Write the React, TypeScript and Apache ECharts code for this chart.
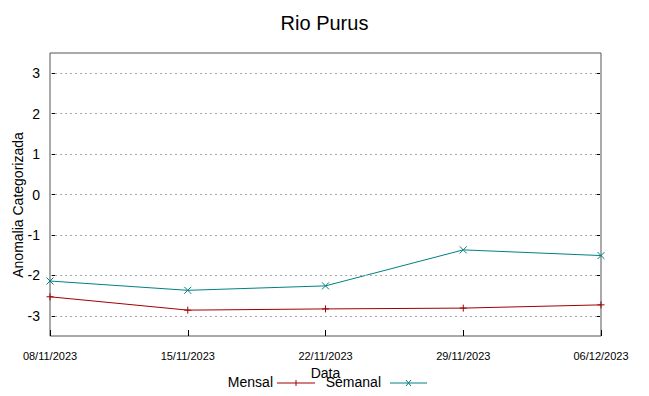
import React, { useEffect, useRef } from "react";
import * as echarts from "echarts";

const dates = ["08/11/2023", "15/11/2023", "22/11/2023", "29/11/2023", "06/12/2023"];
const mensal = [-2.53, -2.86, -2.83, -2.81, -2.73];
const semanal = [-2.14, -2.37, -2.26, -1.37, -1.51];
const yTicks = [-3, -2, -1, 0, 1, 2, 3];

const RED = "#a00000";
const TEAL = "#008080";
const PLUS = "path://M5,0L5,10M0,5L10,5";
const CROSS = "path://M0,0L10,10M10,0L0,10";
const SANS = "'Liberation Sans', Arial, sans-serif";

export default function App() {
  const ref = useRef<HTMLDivElement>(null);
  useEffect(() => {
    document.body.style.margin = "0";
    if (!ref.current) return;
    const chart = echarts.init(ref.current, null, { renderer: "svg" });
    const yAxisBase = {
      type: "value",
      min: -3.5,
      max: 3.5,
      axisLine: { show: false },
      splitLine: { show: false },
      axisTick: { show: true, inside: true, length: 6, customValues: yTicks, lineStyle: { color: "#000" } },
    };
    chart.setOption({
      animation: false,
      title: {
        text: "Rio Purus",
        left: "center",
        top: 8,
        textStyle: { fontFamily: SANS, fontSize: 20, fontWeight: "normal", color: "#000" },
      },
      grid: { left: 50, right: 48, top: 53, bottom: 60, show: true, borderColor: "#555", borderWidth: 1 },
      xAxis: {
        type: "category",
        data: dates,
        boundaryGap: false,
        axisLine: { show: false, onZero: false },
        axisTick: { show: true, inside: true, length: 6, lineStyle: { color: "#000" } },
        axisLabel: { margin: 14, fontFamily: SANS, fontSize: 11, color: "#000", interval: 0 },
        name: "Data",
        nameLocation: "middle",
        nameGap: 30,
        nameTextStyle: { fontFamily: SANS, fontSize: 14, color: "#000" },
      },
      yAxis: [
        {
          ...yAxisBase,
          position: "left",
          axisLabel: { show: true, customValues: yTicks, margin: 10, fontFamily: SANS, fontSize: 14, color: "#000" },
        },
        {
          ...yAxisBase,
          position: "right",
          axisLabel: { show: false },
        },
      ],
      series: [
        {
          name: "Mensal",
          type: "line",
          data: mensal,
          symbol: PLUS,
          symbolSize: 7,
          showAllSymbol: true,
          lineStyle: { color: RED, width: 1 },
          itemStyle: { color: "none", borderColor: RED, borderWidth: 1 },
          markLine: {
            silent: true,
            symbol: "none",
            label: { show: false },
            lineStyle: { color: "#aaa", type: [2, 3], width: 1 },
            data: yTicks.map((v) => ({ yAxis: v })),
          },
          z: 3,
        },
        {
          name: "Semanal",
          type: "line",
          data: semanal,
          symbol: CROSS,
          symbolSize: 7,
          showAllSymbol: true,
          lineStyle: { color: TEAL, width: 1 },
          itemStyle: { color: "none", borderColor: TEAL, borderWidth: 1 },
          z: 3,
        },
      ],
      graphic: [
        {
          type: "text",
          x: 18,
          y: 205,
          rotation: Math.PI / 2,
          style: {
            text: "Anomalia Categorizada",
            fontFamily: SANS,
            fontSize: 14,
            fill: "#000",
            align: "center",
            verticalAlign: "middle",
          },
        },
        {
          type: "text",
          x: 273,
          y: 382,
          style: { text: "Mensal", fontFamily: SANS, fontSize: 14, fill: "#000", align: "right", verticalAlign: "middle" },
        },
        { type: "line", shape: { x1: 277, y1: 383, x2: 315, y2: 383 }, style: { stroke: RED, lineWidth: 1 } },
        { type: "line", shape: { x1: 296, y1: 380, x2: 296, y2: 386 }, style: { stroke: RED, lineWidth: 1 } },
        {
          type: "text",
          x: 381,
          y: 382,
          style: { text: "Semanal", fontFamily: SANS, fontSize: 14, fill: "#000", align: "right", verticalAlign: "middle" },
        },
        { type: "line", shape: { x1: 390, y1: 383, x2: 427, y2: 383 }, style: { stroke: TEAL, lineWidth: 1 } },
        { type: "line", shape: { x1: 406, y1: 380, x2: 411, y2: 386 }, style: { stroke: TEAL, lineWidth: 1 } },
        { type: "line", shape: { x1: 411, y1: 380, x2: 406, y2: 386 }, style: { stroke: TEAL, lineWidth: 1 } },
      ],
    });
    return () => chart.dispose();
  }, []);
  return <div ref={ref} style={{ width: 649, height: 396 }} />;
}
